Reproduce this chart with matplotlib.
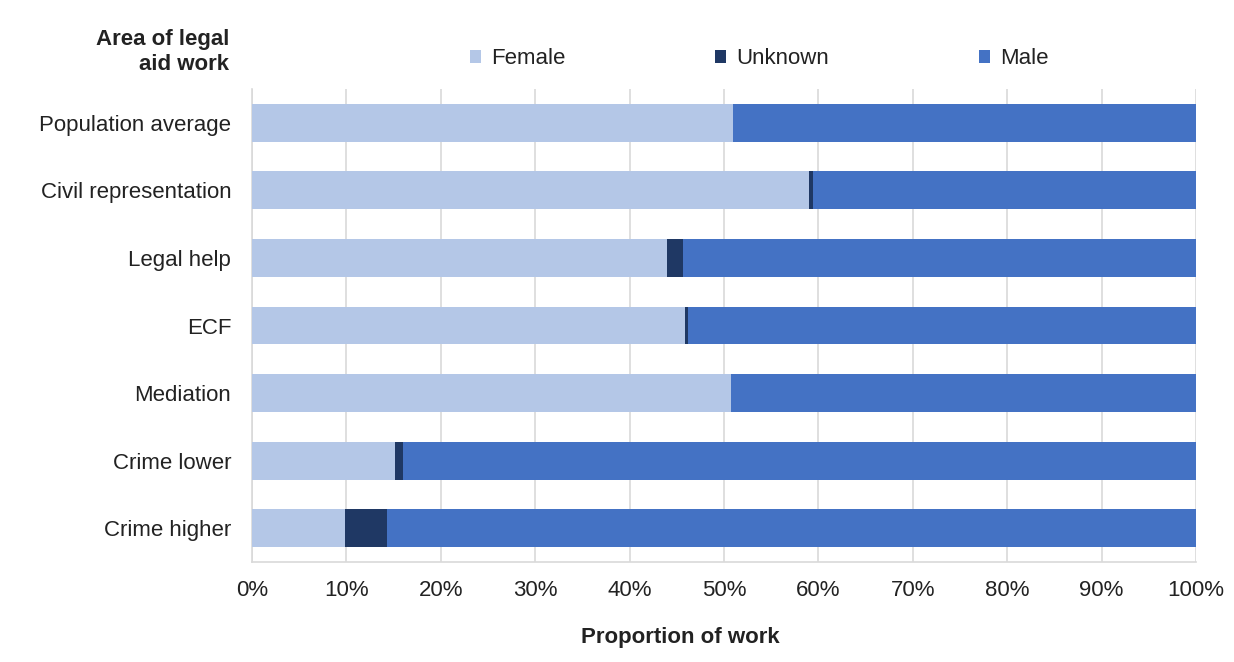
import matplotlib

matplotlib.use("Agg")
import matplotlib.pyplot as plt
import numpy as np
from matplotlib.ticker import FuncFormatter

plt.rcParams["font.family"] = ["Liberation Sans", "DejaVu Sans"]

areas = [
    "Population average",
    "Civil representation",
    "Legal help",
    "ECF",
    "Mediation",
    "Crime lower",
    "Crime higher",
]
female = [51.0, 59.0, 44.0, 45.9, 50.7, 15.1, 9.9]
unknown = [0.0, 0.4, 1.7, 0.3, 0.0, 0.9, 4.4]
male = [49.0, 40.6, 54.3, 53.8, 49.3, 84.0, 85.7]

series = [("Female", female, "#B4C7E7"),
          ("Unknown", unknown, "#1F3864"),
          ("Male", male, "#4472C4")]

fig = plt.figure(figsize=(12.34, 6.62), dpi=100)
ax = fig.add_axes([0.2042, 0.151, 0.765, 0.7145])

y = np.arange(len(areas))
left = np.zeros(len(areas))
handles = []
for name, vals, col in series:
    vals = np.asarray(vals)
    h = ax.barh(y, vals, left=left, height=0.56, color=col, label=name, zorder=3)
    handles.append(h)
    left += vals

ax.set_xlim(0, 100)
ax.set_ylim(len(areas) - 0.5, -0.5)
ax.set_yticks(y)
ax.set_yticklabels(areas, fontsize=16, color="#222222")
ax.set_xticks(np.arange(0, 101, 10))
ax.xaxis.set_major_formatter(FuncFormatter(lambda v, _: f"{v:.0f}%"))
ax.tick_params(axis="x", labelsize=16, length=0, pad=13, colors="#222222")
ax.tick_params(axis="y", length=0, pad=15)
ax.grid(axis="x", color="#D9D9D9", lw=1.2, zorder=0)
for s in ("top", "right"):
    ax.spines[s].set_visible(False)
for s in ("left", "bottom"):
    ax.spines[s].set_color("#D9D9D9")
    ax.spines[s].set_linewidth(1.2)

fig.text(680 / 1234, 1 - 637 / 662, "Proportion of work", ha="center",
         va="center", fontsize=16, fontweight="bold", color="#222222")
fig.text(229 / 1234, 1 - 52 / 662, "Area of legal\naid work", ha="right",
         va="center", fontsize=16, fontweight="bold", color="#222222",
         linespacing=1.25)

fig.legend(handles=handles, loc="center left", ncol=3,
           bbox_to_anchor=(461 / 1234, 1 - 59 / 662), frameon=False,
           fontsize=16, handlelength=0.5, handleheight=0.5,
           handletextpad=0.45, columnspacing=6.75, borderaxespad=0,
           labelcolor="#222222")

fig.savefig("out.png", dpi=100)
